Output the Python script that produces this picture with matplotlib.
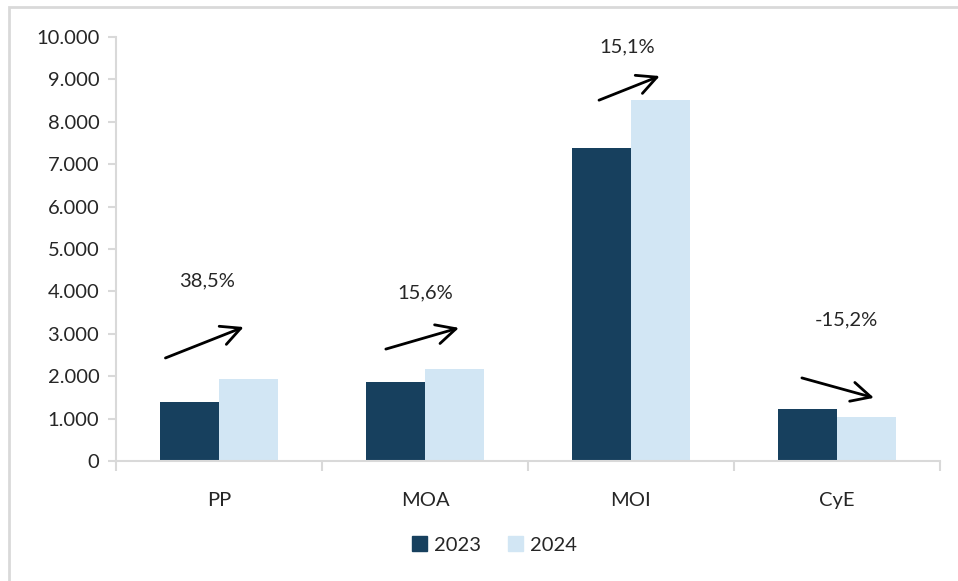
import matplotlib
matplotlib.use("Agg")
import matplotlib.pyplot as plt
from matplotlib.patches import Rectangle, Patch
from matplotlib.ticker import FuncFormatter
import numpy as np

# datos
categorias = ["PP", "MOA", "MOI", "CyE"]
valores_2023 = [1400, 1870, 7390, 1230]
valores_2024 = [1940, 2160, 8505, 1043]
variaciones = ["38,5%", "15,6%", "15,1%", "-15,2%"]

# flechas (x relativo a la categoria, y en valores)
flecha_ini = [(-0.26, 2430), (-0.19, 2640), (-0.155, 8510), (-0.17, 1960)]
flecha_fin = [(0.12, 3160), (0.165, 3140), (0.14, 9080), (0.18, 1490)]
etiqueta_pos = [(-0.06, 4250), (0.0, 3960), (-0.02, 9760), (0.045, 3330)]

oscuro = "#17405E"
claro = "#D2E6F4"
gris = "#D9D9D9"
texto = "#262626"

plt.rcParams["font.family"] = ["Lato", "DejaVu Sans"]

fig = plt.figure(figsize=(9.58, 5.81), dpi=100)
ax = fig.add_axes([0.1211, 0.2065, 0.86, 0.7298])

x = np.arange(len(categorias))
ancho = 0.286
ax.bar(x - ancho / 2, valores_2023, ancho, color=oscuro, label="2023")
ax.bar(x + ancho / 2, valores_2024, ancho, color=claro, label="2024")

for i in range(len(categorias)):
    x0, y0 = flecha_ini[i]
    x1, y1 = flecha_fin[i]
    ax.annotate("", xy=(i + x1, y1), xytext=(i + x0, y0),
                arrowprops=dict(arrowstyle="->,head_length=1.0,head_width=0.5",
                                color="black", lw=2, mutation_scale=14,
                                shrinkA=0, shrinkB=0))
    lx, ly = etiqueta_pos[i]
    ax.text(i + lx, ly, variaciones[i], ha="center", va="center",
            fontsize=14.5, color=texto)

ax.set_xlim(-0.5, len(categorias) - 0.5)
ax.set_ylim(0, 10000)
ax.set_yticks(np.arange(0, 10001, 1000))
ax.yaxis.set_major_formatter(FuncFormatter(lambda v, p: f"{int(v):,}".replace(",", ".")))
ax.set_xticks(x)
ax.set_xticklabels(categorias)
ax.set_xticks(np.arange(-0.5, len(categorias), 1), minor=True)
ax.tick_params(axis="x", which="major", length=0, pad=22, labelsize=14.5, labelcolor=texto)
ax.tick_params(axis="x", which="minor", length=7, width=1.5, color=gris)
ax.tick_params(axis="y", length=6, width=1.5, color=gris, pad=6, labelsize=14.5, labelcolor=texto)

for lado in ["top", "right"]:
    ax.spines[lado].set_visible(False)
for lado in ["left", "bottom"]:
    ax.spines[lado].set_color(gris)
    ax.spines[lado].set_linewidth(1.5)

manejadores = [Patch(color=oscuro, label="2023"), Patch(color=claro, label="2024")]
fig.legend(handles=manejadores, loc="center", bbox_to_anchor=(494.5 / 958, 1 - 545 / 581),
           ncol=2, frameon=False, fontsize=14.5, handlelength=0.75, handleheight=0.75,
           handletextpad=0.35, columnspacing=1.3, labelcolor=texto)

# marco del grafico (solo se ven borde superior e izquierdo)
fig.patches.append(Rectangle((0.0094, -0.05), 1.1, 1.038, transform=fig.transFigure,
                             fill=False, edgecolor=gris, lw=2))

fig.savefig("out.png", dpi=100)
